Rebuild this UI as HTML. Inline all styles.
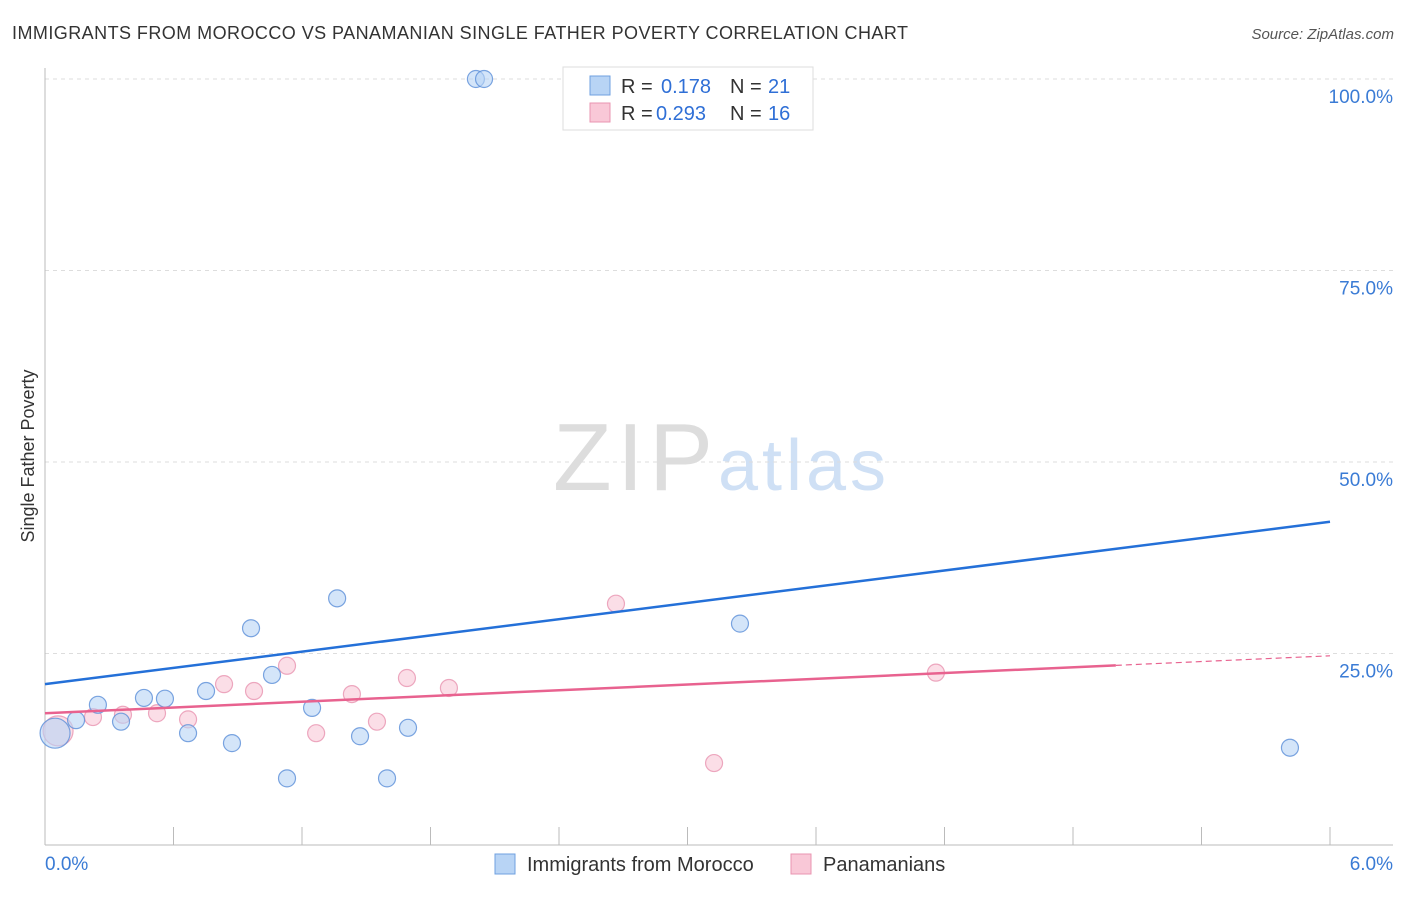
<!DOCTYPE html>
<html><head><meta charset="utf-8"><style>
body{margin:0;background:#fff;font-family:"Liberation Sans",sans-serif;}
svg text{font-family:"Liberation Sans",sans-serif;}
</style></head><body>
<svg width="1406" height="892" id="c">
<text x="12" y="39" font-size="18" fill="#333" textLength="896">IMMIGRANTS FROM MOROCCO VS PANAMANIAN SINGLE FATHER POVERTY CORRELATION CHART</text>
<text x="1394" y="39" font-size="15" fill="#555" font-style="italic" text-anchor="end">Source: ZipAtlas.com</text>
<text x="34" y="456" font-size="18" fill="#333" text-anchor="middle" transform="rotate(-90 34 456)">Single Father Poverty</text>
<g><text x="553" y="490" font-size="96" fill="#ddd" font-family="Liberation Serif,serif" textLength="160">ZIP</text><text x="718" y="490" font-size="72" fill="#cfe0f5" textLength="168">atlas</text></g>
<g id="grid"></g><g id="marks"></g>
<g>
<rect x="563" y="67" width="250" height="63" fill="#fff" stroke="#ddd"/>
<rect x="590" y="76" width="20" height="19" fill="#b8d4f5" stroke="#6fa0e0"/>
<rect x="590" y="103" width="20" height="19" fill="#f9c8d7" stroke="#e994b0"/>
<text x="621" y="93" font-size="20" fill="#333">R =</text>
<text x="661" y="93" font-size="20" fill="#2f6fd6">0.178</text>
<text x="730" y="93" font-size="20" fill="#333">N =</text>
<text x="768" y="93" font-size="20" fill="#2f6fd6">21</text>
<text x="621" y="120" font-size="20" fill="#333">R =</text>
<text x="656" y="120" font-size="20" fill="#2f6fd6">0.293</text>
<text x="730" y="120" font-size="20" fill="#333">N =</text>
<text x="768" y="120" font-size="20" fill="#2f6fd6">16</text>
</g>
<g>
<rect x="495" y="854" width="20" height="20" fill="#b8d4f5" stroke="#6fa0e0"/>
<text x="527" y="871" font-size="20" fill="#333">Immigrants from Morocco</text>
<rect x="791" y="854" width="20" height="20" fill="#f9c8d7" stroke="#e994b0"/>
<text x="823" y="871" font-size="20" fill="#333">Panamanians</text>
</g>
</svg>
<script>
const blueX=[0.047,0.145,0.247,0.355,0.462,0.560,0.668,0.752,0.873,0.962,1.060,1.130,1.247,1.364,1.471,1.597,1.695,2.012,2.050,3.245,5.813];
const blueY=[14.6,16.3,18.3,16.1,19.2,19.1,14.6,20.1,13.3,28.3,22.2,8.7,17.9,32.2,14.2,8.7,15.3,100,100,28.9,12.7];
const pinkX=[0.061,0.224,0.364,0.523,0.668,0.836,0.976,1.130,1.266,1.433,1.550,1.690,1.886,2.666,3.124,4.160];
const pinkY=[14.9,16.7,17.0,17.2,16.4,21.0,20.1,23.4,14.6,19.7,16.1,21.8,20.5,31.5,10.7,22.5];
const yTicks=[25,50,75,100];
const xTicks=[0,0.6,1.2,1.8,2.4,3.0,3.6,4.2,4.8,5.4,6.0];
const blueTrend=[21.0,42.2];
const pinkTrend=[17.2,24.7];
const X=v=>45+v/6*1285, Y=v=>845-v*7.66;
const NS='http://www.w3.org/2000/svg';
const g=document.getElementById('grid'), m=document.getElementById('marks');
function mk(p,t,a){const e=document.createElementNS(NS,t);for(const k in a)e.setAttribute(k,a[k]);p.appendChild(e);return e;}
yTicks.forEach(v=>{
 const l=mk(g,'line',{x1:45,x2:1393,y1:Y(v),y2:Y(v),stroke:'#ddd','stroke-dasharray':'4,4'});
 
 
 const t=mk(g,'text',{x:1393,y:Y(v)+24,'font-size':19,fill:'#3a7bd5','text-anchor':'end'});t.textContent=v.toFixed(1)+'%';
 
 
});
mk(g,'line',{x1:45,x2:45,y1:68,y2:845,stroke:'#bbb'});
mk(g,'line',{x1:45,x2:1393,y1:845,y2:845,stroke:'#bbb'});
xTicks.forEach(v=>{const l=mk(g,'line',{x1:X(v),x2:X(v),y1:827,y2:845,stroke:'#bbb'});
 
 });
[[0,45,'start'],[6,1393,'end']].forEach(([v,x,a])=>{const t=mk(g,'text',{x:x,y:870,'font-size':19,fill:'#3a7bd5','text-anchor':a});t.textContent=v.toFixed(1)+'%';
 
 });
function pts(xs,ys,fill,stroke,name){xs.forEach((x,i)=>{const r=i==0?15:8.5;
 const c=mk(m,'circle',{cx:X(x),cy:Y(ys[i]),r:r,fill:fill,'fill-opacity':0.6,stroke:stroke,'stroke-opacity':0.8,'stroke-width':1.2});
 
 });}
pts(pinkX,pinkY,'#f9c8d7','#e994b0','panamanian-point');
pts(blueX,blueY,'#b8d4f5','#5b8fd8','morocco-point');
const bl=mk(m,'line',{x1:X(0),y1:Y(blueTrend[0]),x2:X(6),y2:Y(blueTrend[1]),stroke:'#2470d8','stroke-width':2.5});


const pe=pinkTrend[0]+(pinkTrend[1]-pinkTrend[0])*5/6;
const pl=mk(m,'line',{x1:X(0),y1:Y(pinkTrend[0]),x2:X(5),y2:Y(pe),stroke:'#e8628f','stroke-width':2.5});


const pd=mk(m,'line',{x1:X(5),y1:Y(pe),x2:X(6),y2:Y(pinkTrend[1]),stroke:'#e8628f','stroke-width':1.2,'stroke-dasharray':'6,4'});


</script>
</body></html>
